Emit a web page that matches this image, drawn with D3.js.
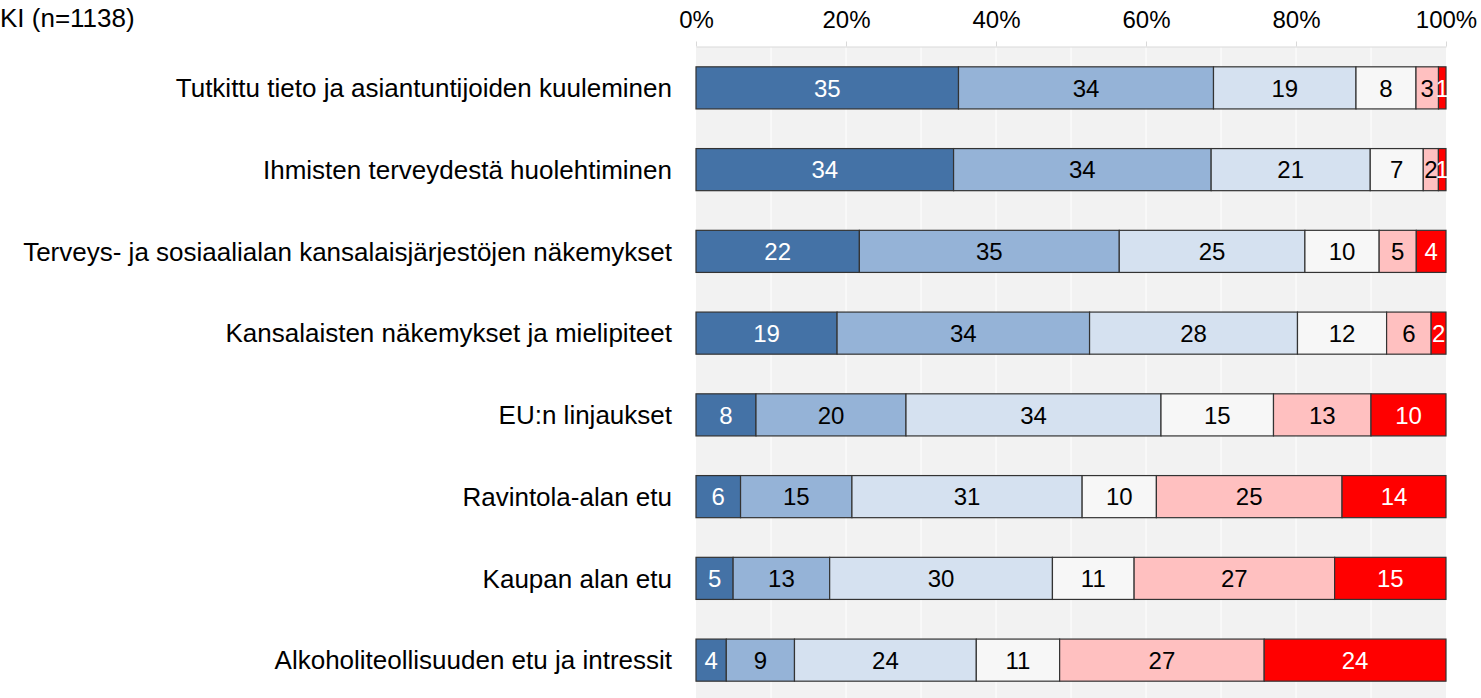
<!DOCTYPE html>
<html lang="fi">
<head>
<meta charset="UTF-8"/>
<title>KI (n=1138)</title>
<script src="https://d3js.org/d3.v7.min.js"></script>
<style>
	body { margin: 0; background: #fff; }
	text { font-family: "Liberation Sans", Arial, sans-serif; }
</style>
</head>
<body>
<script>

var w = 1481;
var h = 698;

var categories = [
	"Tutkittu tieto ja asiantuntijoiden kuuleminen",
	"Ihmisten terveydestä huolehtiminen",
	"Terveys- ja sosiaalialan kansalaisjärjestöjen näkemykset",
	"Kansalaisten näkemykset ja mielipiteet",
	"EU:n linjaukset",
	"Ravintola-alan etu",
	"Kaupan alan etu",
	"Alkoholiteollisuuden etu ja intressit"
];

// six answer classes
var s1 = [35, 34, 22, 19, 8, 6, 5, 4];
var s2 = [34, 34, 35, 34, 20, 15, 13, 9];
var s3 = [19, 21, 25, 28, 34, 31, 30, 24];
var s4 = [8, 7, 10, 12, 15, 10, 11, 11];
var s5 = [3, 2, 5, 6, 13, 25, 27, 27];
var s6 = [1, 1, 4, 2, 10, 14, 15, 24];

var ticks = [0, 0.2, 0.4, 0.6, 0.8, 1];

var colors = ["#4472a6", "#95b3d7", "#d5e1f0", "#f7f7f7", "#ffc0c0", "#ff0000"];
var textColors = ["#fff", "#000", "#000", "#000", "#000", "#fff"];

var series = [s1, s2, s3, s4, s5, s6];
var keys = ["s1", "s2", "s3", "s4", "s5", "s6"];
var rows = categories.map(function(c, i) {
	var r = { cat: c };
	series.forEach(function(s, k) { r[keys[k]] = s[i]; });
	return r;
});

var stacked = d3.stack().keys(keys).offset(d3.stackOffsetExpand)(rows);

var padL = 696, padR = 1446, padT = 47, padB = 701;

var xScale = d3.scaleLinear().domain([0, 1]).range([padL, padR]);
var yScale = d3.scaleBand().domain(categories).range([padT, padB]).paddingInner(0.485).paddingOuter(0.2425);

var svg = d3.select("body").append("svg")
	.attr("width", w)
	.attr("height", h);

// plot background
svg.append("rect")
	.attr("x", padL).attr("y", padT)
	.attr("width", padR - padL).attr("height", padB - padT)
	.attr("fill", "#f2f2f2");

// gridlines every 10%
svg.selectAll("line.grid")
	.data(d3.range(1, 10).map(function(d) { return d / 10; }))
	.enter().append("line")
	.attr("class", "grid")
	.attr("x1", function(d) { return xScale(d); })
	.attr("x2", function(d) { return xScale(d); })
	.attr("y1", padT).attr("y2", padB)
	.attr("stroke", "#fff").attr("stroke-width", 1);

// top axis
var xAxis = d3.axisTop(xScale)
	.tickValues(ticks)
	.tickFormat(d3.format(".0%"))
	.tickSize(5)
	.tickSizeOuter(0);

var ax = svg.append("g")
	.attr("transform", "translate(0," + (padT - 0.5) + ")")
	.call(xAxis);
ax.select(".domain").attr("stroke", "#d9d9d9");
ax.selectAll(".tick line").attr("stroke", "#d9d9d9");
ax.selectAll(".tick text")
	.attr("fill", "#000")
	.attr("y", -19)
	.style("font-size", "24px")
	.style("font-family", "Liberation Sans, Arial, sans-serif");

// bars
var groups = svg.selectAll("g.layer")
	.data(stacked)
	.enter().append("g")
	.attr("class", "layer");

groups.selectAll("rect")
	.data(function(d) { return d.map(function(v) { return { v: v, k: d.index }; }); })
	.enter().append("rect")
	.attr("x", function(d) { return xScale(d.v[0]); })
	.attr("y", function(d) { return yScale(d.v.data.cat); })
	.attr("width", function(d) { return xScale(d.v[1]) - xScale(d.v[0]); })
	.attr("height", yScale.bandwidth())
	.attr("fill", function(d) { return colors[d.k]; })
	.attr("stroke", "#333")
	.attr("stroke-width", 1.2);

groups.selectAll("text")
	.data(function(d) { return d.map(function(v) { return { v: v, k: d.index }; }); })
	.enter().append("text")
	.attr("x", function(d) { return (xScale(d.v[0]) + xScale(d.v[1])) / 2; })
	.attr("y", function(d) { return yScale(d.v.data.cat) + yScale.bandwidth() / 2; })
	.attr("dy", "0.36em")
	.attr("text-anchor", "middle")
	.attr("fill", function(d) { return textColors[d.k]; })
	.style("font-size", "24px")
	.text(function(d) { return d.v.data[keys[d.k]]; });

// category labels
svg.selectAll("text.cat")
	.data(categories)
	.enter().append("text")
	.attr("class", "cat")
	.attr("x", 672)
	.attr("y", function(d) { return yScale(d) + yScale.bandwidth() / 2; })
	.attr("dy", "0.36em")
	.attr("text-anchor", "end")
	.style("font-size", "26px")
	.text(function(d) { return d; });

// title
svg.append("text")
	.attr("x", 0)
	.attr("y", 27)
	.style("font-size", "26px")
	.text("KI (n=1138)");

</script>
</body>
</html>
